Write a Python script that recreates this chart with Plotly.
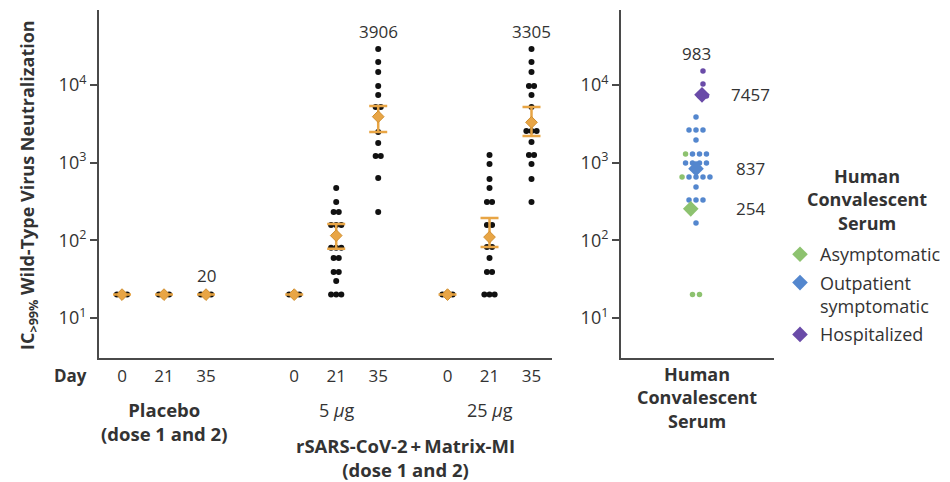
import math
import plotly.graph_objects as go

W, H = 950, 482
FONT = "Open Sans"
TXT = "#333333"
AXC = "#4a4a4a"

# ---------------- data ----------------
days = ["0", "21", "35"]
groups = ["Placebo", "5 µg", "25 µg"]

placebo_d0 = [20, 20, 20]
placebo_d21 = [20, 20, 20]
placebo_d35 = [20, 20, 20]
low_d0 = [20, 20, 20]
low_d21 = [472, 312, 232, 232, 158, 158, 158, 115, 80, 80, 80, 59, 59, 39, 39, 30, 20, 20, 20]
low_d35 = [29000, 19800, 14700, 9700, 7400, 5200, 5200, 2480, 1790, 1220, 1220, 635, 232]
high_d0 = [20, 20, 20]
high_d21 = [1257, 961, 617, 472, 312, 312, 158, 158, 82, 82, 59, 39, 39, 20, 20, 20]
high_d35 = [29000, 19800, 14700, 9700, 9700, 7400, 5200, 2560, 2560, 2560, 1850, 1257, 1257, 961, 617, 312]

gmt = [20, 20, 20, 20, 115, 3906, 20, 110, 3305]
ci_lo = [20, 20, 20, 20, 78, 2480, 20, 82, 2210]
ci_hi = [20, 20, 20, 20, 162, 5370, 20, 194, 5200]
gmt_shown = ["", "", "20", "", "", "3906", "", "", "3305"]

conv_asymptomatic = [1295, 655, 20, 20]
conv_outpatient = [3870, 2640, 2640, 2640, 1960, 1295, 1295, 1295, 991, 991, 991, 991,
                   655, 655, 655, 655, 486, 331, 331, 331, 167]
conv_hospitalized = [15100, 10300, 7200, 7200]
conv_gmt_overall = 983
conv_gmt_groups = [254, 837, 7457]
conv_names = ["Asymptomatic", "Outpatient<br>symptomatic", "Hospitalized"]

ytick_vals = [10, 100, 1000, 10000]
ytick_text = ["10<sup>1</sup>", "10<sup>2</sup>", "10<sup>3</sup>", "10<sup>4</sup>"]

# ---------------- layout helpers ----------------
group_offsets = [0, 4.1, 7.75]
col_x = [g + d for g in group_offsets for d in range(len(days))]
columns = [placebo_d0, placebo_d21, placebo_d35, low_d0, low_d21, low_d35,
           high_d0, high_d21, high_d35]
STEP_L = 0.122


def swarm(values, step):
    counts = {}
    for v in values:
        counts[v] = counts.get(v, 0) + 1
    seen = {}
    offs = []
    for v in values:
        n = counts[v]
        i = seen.get(v, 0)
        seen[v] = i + 1
        offs.append((i - (n - 1) / 2) * step)
    return offs


fig = go.Figure()

bx, by = [], []
for cx, vals in zip(col_x, columns):
    for o, v in zip(swarm(vals, STEP_L), vals):
        bx.append(cx + o)
        by.append(v)
fig.add_trace(go.Scatter(x=bx, y=by, mode="markers", showlegend=False,
                         marker=dict(color="#111111", size=6),
                         xaxis="x", yaxis="y", hoverinfo="skip"))

ORANGE = "#E8A545"
fig.add_trace(go.Scatter(
    x=col_x, y=gmt, mode="markers", showlegend=False,
    marker=dict(symbol="diamond", color=ORANGE, size=9, line=dict(color="#D08F30", width=1)),
    error_y=dict(type="data", symmetric=False,
                 array=[h - g for h, g in zip(ci_hi, gmt)],
                 arrayminus=[g - l for g, l in zip(gmt, ci_lo)],
                 color=ORANGE, thickness=2.5, width=9),
    xaxis="x", yaxis="y"))

# ---------------- convalescent panel ----------------
GREEN, BLUE, PURPLE = "#8DC26F", "#5487CE", "#6A4BA8"
cols = [GREEN, BLUE, PURPLE]
STEP_R = 0.093
group_shift = [0, 0, 0.093]
all_vals = conv_asymptomatic + conv_outpatient + conv_hospitalized
all_grp = [0] * len(conv_asymptomatic) + [1] * len(conv_outpatient) + [2] * len(conv_hospitalized)
offs = swarm(all_vals, STEP_R)
for gi in range(3):
    xs = [o + group_shift[gi] for o, g in zip(offs, all_grp) if g == gi]
    ys = [v for v, g in zip(all_vals, all_grp) if g == gi]
    fig.add_trace(go.Scatter(x=xs, y=ys, mode="markers", showlegend=False,
                             marker=dict(color=cols[gi], size=5.5),
                             xaxis="x2", yaxis="y2", hoverinfo="skip"))
gmt_shift = [-0.07, 0, 0.08]
for gi in range(3):
    fig.add_trace(go.Scatter(x=[gmt_shift[gi]], y=[conv_gmt_groups[gi]], mode="markers",
                             name=conv_names[gi], legendgroup=f"g{gi}",
                             marker=dict(symbol="diamond", color=cols[gi], size=12),
                             xaxis="x2", yaxis="y2"))

# ---------------- axes ----------------
ydom = [1 - 358 / H, 1 - 10 / H]
yax = dict(type="log", range=[0.485, 4.965], domain=ydom, tickvals=ytick_vals, ticktext=ytick_text,
           ticks="outside", ticklen=7, tickwidth=1.5, tickcolor=AXC, showline=True,
           linecolor=AXC, linewidth=2, showgrid=False, zeroline=False,
           tickfont=dict(size=18, color=TXT, family=FONT))
fig.update_layout(
    width=W, height=H, margin=dict(l=0, r=0, t=0, b=0),
    paper_bgcolor="white", plot_bgcolor="white",
    font=dict(family=FONT, color=TXT, size=17),
    xaxis=dict(domain=[99 / W, 552 / W], range=[-0.548, 10.238], tickvals=col_x,
               ticktext=days * 3, ticks="", showline=True, linecolor=AXC, linewidth=2,
               showgrid=False, zeroline=False, anchor="y", ticklabelstandoff=2,
               tickfont=dict(size=17, color=TXT, family=FONT)),
    yaxis=dict(anchor="x", **yax),
    xaxis2=dict(domain=[621 / W, 774 / W], range=[-1, 1.04], showticklabels=False, ticks="",
                showline=True, linecolor=AXC, linewidth=2, showgrid=False, zeroline=False,
                anchor="y2"),
    yaxis2=dict(anchor="x2", **yax),
    legend=dict(x=780 / W, y=1 - 236 / H, xanchor="left", yanchor="top",
                font=dict(size=18, color=TXT, family=FONT), valign="top",
                itemsizing="constant", bgcolor="rgba(0,0,0,0)", tracegroupgap=2),
)

ann = []


def pa(text, px, py, size=17, bold=False, **kw):
    t = f"<b>{text}</b>" if bold else text
    d = dict(text=t, x=px / W, y=1 - py / H, xref="paper", yref="paper", showarrow=False,
             xanchor="center", yanchor="middle", font=dict(size=size, color=TXT, family=FONT))
    d.update(kw)
    ann.append(d)


def da(text, xval, py, size, bold=False, xshift=0):
    t = f"<b>{text}</b>" if bold else text
    ann.append(dict(text=t, x=xval, y=1 - py / H, xref="x", yref="paper", showarrow=False,
                    xanchor="center", yanchor="middle", xshift=xshift,
                    font=dict(size=size, color=TXT, family=FONT)))


pa("IC<sub>&gt;99%</sub> Wild-Type Virus Neutralization", 29, 185, size=18, bold=True, textangle=-90)
pa("Day", 70, 375, bold=True)
pa("Human<br>Convalescent<br>Serum", 867, 199, size=18, bold=True)
for gi, (g, lab) in enumerate(zip(group_offsets, groups)):
    if gi == 0:
        da("Placebo<br>(dose 1 and 2)", g + 1, 421.5, 18.5, bold=True)
    else:
        da(lab.replace("µ", "<i>µ</i>"), g + 1, 410, 18)
vac_center = (group_offsets[1] + group_offsets[2] + len(days) - 1) / 2
da("rSARS-CoV-2\u2009+\u2009Matrix-MI<br>(dose 1 and 2)", vac_center, 457, 18.5,
   bold=True, xshift=-7)
pa("Human<br>Convalescent<br>Serum", 697, 397, size=18, bold=True)

# GMT value labels
for cx, vals, lab in zip(col_x, columns, gmt_shown):
    if lab:
        ann.append(dict(text=lab, x=cx, y=math.log10(max(vals)), xref="x", yref="y",
                        showarrow=False, xanchor="center", yanchor="bottom",
                        yshift=4 if lab != "20" else 6,
                        font=dict(size=17, color=TXT, family=FONT)))
ann.append(dict(text=str(conv_gmt_overall), x=0, y=math.log10(max(all_vals)), xref="x2", yref="y2",
                showarrow=False, xanchor="center", yanchor="bottom", yshift=4,
                font=dict(size=17, color=TXT, family=FONT)))
for v in conv_gmt_groups:
    ann.append(dict(text=str(v), x=0, y=math.log10(v), xref="x2", yref="y2", showarrow=False,
                    xanchor="center", yanchor="middle", xshift=54,
                    font=dict(size=17, color=TXT, family=FONT)))
fig.update_layout(annotations=ann)

fig.write_html("out.html")
